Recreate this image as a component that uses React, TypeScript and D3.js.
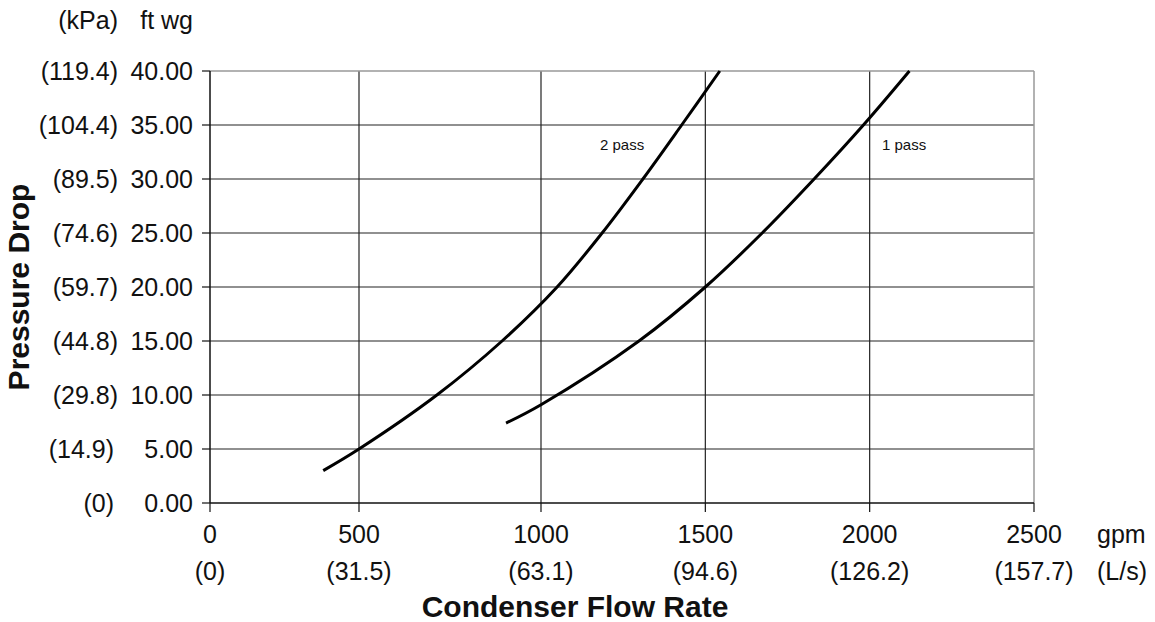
import React from "react";
import * as d3 from "d3";

const xTicks = [0, 500, 1000, 1500, 2000, 2500];
const xTickLs = ["(0)", "(31.5)", "(63.1)", "(94.6)", "(126.2)", "(157.7)"];
const yTicks = [0, 5, 10, 15, 20, 25, 30, 35, 40];
const yTickKpa = ["(0)", "(14.9)", "(29.8)", "(44.8)", "(59.7)", "(74.6)", "(89.5)", "(104.4)", "(119.4)"];

const pass2Flow = [380, 500, 714, 893, 1049, 1186, 1310, 1428, 1544];
const pass2Drop = [3.0, 5.0, 10, 15, 20, 25, 30, 35, 40];
const pass1Flow = [904, 1000, 1298, 1500, 1673, 1831, 1981, 2121];
const pass1Drop = [7.4, 9.1, 15, 20, 25, 30, 35, 40];

const FONT = "Liberation Sans, Arial, Helvetica, sans-serif";

export default function App() {
  const x = d3.scaleLinear().domain([0, 500, 1000, 2500]).range([210, 359, 541, 1034]);
  const y = d3.scaleLinear().domain([0, 40]).range([503, 71]);
  const line = d3
    .line<[number, number]>()
    .x((d) => x(d[0]))
    .y((d) => y(d[1]))
    .curve(d3.curveCatmullRom.alpha(0.5));
  const p2 = pass2Flow.map((f, i) => [f, pass2Drop[i]] as [number, number]);
  const p1 = pass1Flow.map((f, i) => [f, pass1Drop[i]] as [number, number]);
  const x0 = x(0);
  const x1 = x(2500);
  const y0 = y(0);
  const y1 = y(40);
  const fs = 25;
  return (
    <svg
      width={1155}
      height={622}
      style={{ position: "absolute", left: 0, top: 0, background: "#fff" }}
      fontFamily={FONT}
    >
      <rect x={0} y={0} width={1155} height={622} fill="#fff" />
      {yTicks.map((t) =>
        t === 0 || t === 40 ? null : (
          <line key={"hy" + t} x1={x0} x2={x1} y1={y(t)} y2={y(t)} stroke="#222" strokeWidth={1.2} />
        )
      )}
      {xTicks.map((t) =>
        t === 0 || t === 2500 ? null : (
          <line key={"vx" + t} x1={x(t)} x2={x(t)} y1={y1} y2={y0} stroke="#222" strokeWidth={1.2} />
        )
      )}
      <line x1={x0} x2={x1} y1={y1} y2={y1} stroke="#999" strokeWidth={1.5} />
      <line x1={x1} x2={x1} y1={y1} y2={y0} stroke="#999" strokeWidth={1.5} />
      <line x1={x0} x2={x0} y1={y1} y2={y0} stroke="#111" strokeWidth={1.5} />
      <line x1={x0} x2={x1} y1={y0} y2={y0} stroke="#111" strokeWidth={1.5} />
      {yTicks.map((t) => (
        <line key={"ty" + t} x1={x0 - 8} x2={x0} y1={y(t)} y2={y(t)} stroke="#111" strokeWidth={1.2} />
      ))}
      {xTicks.map((t) => (
        <line key={"tx" + t} x1={x(t)} x2={x(t)} y1={y0} y2={y0 + 9} stroke="#111" strokeWidth={1.2} />
      ))}
      {yTicks.map((t, i) => (
        <g key={"yl" + t} fontSize={fs} fill="#111">
          <text x={193} y={y(t)} dy="0.35em" textAnchor="end">
            {t.toFixed(2)}
          </text>
          <text x={t >= 10 ? 118 : 114} y={y(t)} dy="0.35em" textAnchor="end">
            {yTickKpa[i]}
          </text>
        </g>
      ))}
      <text x={118} y={29} fontSize={fs} textAnchor="end" fill="#111">
        (kPa)
      </text>
      <text x={193} y={29} fontSize={fs} textAnchor="end" fill="#111">
        ft wg
      </text>
      {xTicks.map((t, i) => (
        <g key={"xl" + t} fontSize={fs} fill="#111" textAnchor="middle">
          <text x={x(t)} y={543}>
            {t}
          </text>
          <text x={x(t)} y={580}>
            {xTickLs[i]}
          </text>
        </g>
      ))}
      <text x={1097} y={543} fontSize={fs} fill="#111">
        gpm
      </text>
      <text x={1097} y={580} fontSize={fs} fill="#111">
        (L/s)
      </text>
      <text x={575} y={617} fontSize={30} fontWeight="bold" textAnchor="middle" fill="#111">
        Condenser Flow Rate
      </text>
      <text
        transform={`translate(29, ${(y0 + y1) / 2}) rotate(-90)`}
        fontSize={30}
        fontWeight="bold"
        textAnchor="middle"
        fill="#111"
      >
        Pressure Drop
      </text>
      <path d={line(p2) || ""} fill="none" stroke="#000" strokeWidth={3} />
      <path d={line(p1) || ""} fill="none" stroke="#000" strokeWidth={3} />
      <text x={600} y={150} fontSize={15} fill="#111">
        2 pass
      </text>
      <text x={882} y={150} fontSize={15} fill="#111">
        1 pass
      </text>
    </svg>
  );
}
